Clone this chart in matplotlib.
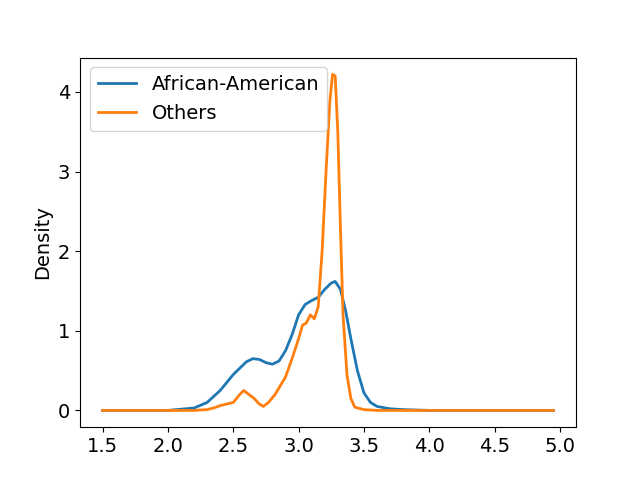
import matplotlib
matplotlib.use("Agg")
import matplotlib.pyplot as plt

# density curves
aa_x = [1.5, 2.0, 2.2, 2.3, 2.4, 2.5, 2.6, 2.65, 2.7, 2.75, 2.8, 2.85, 2.9, 2.95, 3.0,
        3.05, 3.1, 3.15, 3.2, 3.25, 3.28, 3.32, 3.36, 3.4, 3.45, 3.5, 3.55, 3.6, 3.7,
        3.8, 4.0, 4.95]
aa_y = [0, 0, 0.03, 0.1, 0.25, 0.45, 0.61, 0.65, 0.64, 0.6, 0.58, 0.62, 0.75, 0.95, 1.2,
        1.33, 1.38, 1.42, 1.52, 1.6, 1.62, 1.52, 1.25, 0.9, 0.5, 0.22, 0.1, 0.05, 0.02,
        0.01, 0, 0]

ot_x = [1.5, 2.2, 2.3, 2.35, 2.4, 2.45, 2.5, 2.55, 2.58, 2.62, 2.66, 2.7, 2.73, 2.77,
        2.82, 2.9, 2.95, 3.0, 3.03, 3.06, 3.09, 3.12, 3.15, 3.18, 3.21, 3.24, 3.26, 3.28,
        3.3, 3.32, 3.34, 3.37, 3.4, 3.43, 3.5, 3.6, 4.95]
ot_y = [0, 0, 0.01, 0.03, 0.06, 0.08, 0.1, 0.2, 0.25, 0.2, 0.15, 0.08, 0.05, 0.1,
        0.2, 0.42, 0.65, 0.9, 1.07, 1.1, 1.2, 1.15, 1.3, 2.0, 3.0, 3.9, 4.22, 4.2,
        3.5, 2.3, 1.2, 0.45, 0.15, 0.04, 0.01, 0, 0]

plt.rcParams['font.size'] = 14
fig, ax = plt.subplots(figsize=(6.4, 4.8), dpi=100)
ax.plot(aa_x, aa_y, lw=2, label='African-American')
ax.plot(ot_x, ot_y, lw=2, label='Others')
ax.set_ylabel('Density')
ax.set_xticks([1.5, 2.0, 2.5, 3.0, 3.5, 4.0, 4.5, 5.0])
ax.legend(loc='upper left')
fig.savefig('out.png')
